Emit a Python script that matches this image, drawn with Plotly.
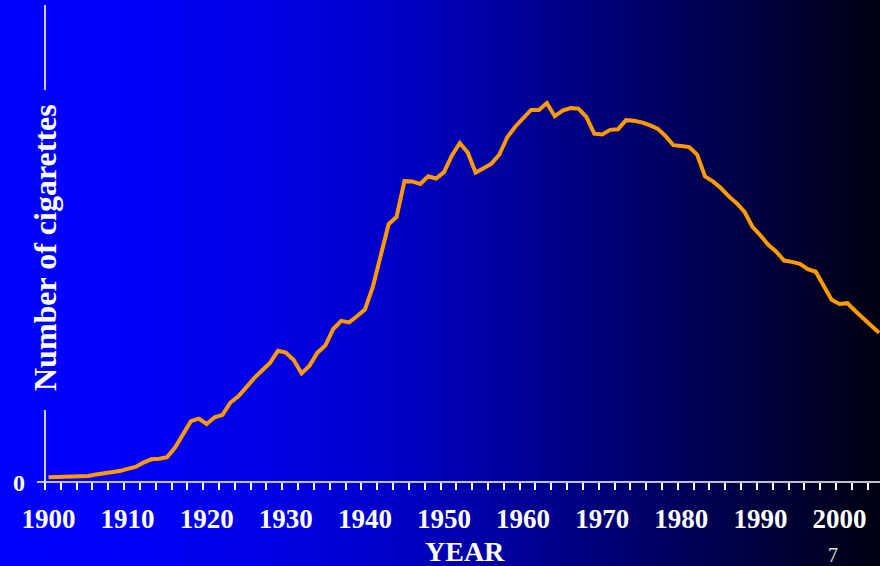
import base64, struct, zlib
import plotly.graph_objects as go

# ---------------- data ----------------
years = list(range(1900, 2006))
cigarettes = [
    54, 53, 60, 64, 66, 70, 86, 99, 105, 125,          # 1900-1909
    151, 173, 223, 260, 267, 285, 395, 551, 697, 727,  # 1910-1919
    665, 742, 770, 911, 982, 1085, 1191, 1279, 1366, 1504,  # 1920-1929
    1485, 1399, 1245, 1334, 1483, 1564, 1754, 1847, 1830, 1900,  # 1930-1939
    1976, 2236, 2585, 2956, 3039, 3449, 3446, 3416, 3505, 3480,  # 1940-1949
    3552, 3744, 3886, 3778, 3546, 3597, 3650, 3755, 3953, 4073,  # 1950-1959
    4171, 4266, 4266, 4345, 4194, 4258, 4287, 4280, 4186, 3993,  # 1960-1969
    3985, 4037, 4043, 4148, 4141, 4123, 4092, 4051, 3967, 3861,  # 1970-1979
    3851, 3840, 3753, 3502, 3446, 3370, 3274, 3197, 3096, 2926,  # 1980-1989
    2827, 2720, 2641, 2539, 2524, 2500, 2440, 2410, 2250, 2090,  # 1990-1999
    2040, 2050, 1960, 1880, 1795, 1710,                          # 2000-2005
]
tick_years = list(range(1900, 2001, 10))
tick_labels = [str(y) for y in tick_years]
y_tick_label = "0"
x_title = "YEAR"
y_title = "Number of cigarettes"
page_number = "7"

# ---------------- geometry ----------------
W, H = 880, 566
L, R, T, B = 45, 0, 0, 84
PW, PH = W - L - R, H - T - B

# ---------------- gradient background (PNG built in memory) ----------------
stops = [(0, 255), (100, 252), (250, 232), (390, 200), (630, 110), (880, 16)]
def blue_at(x):
    for (x0, b0), (x1, b1) in zip(stops, stops[1:]):
        if x0 <= x <= x1:
            return b0 + (b1 - b0) * (x - x0) / (x1 - x0)
    return stops[-1][1]
row = bytearray()
for x in range(W):
    row += bytes((0, 0, int(round(blue_at(x)))))
raw = b"\x00" + bytes(row)
def chunk(tag, data):
    return struct.pack(">I", len(data)) + tag + data + struct.pack(">I", zlib.crc32(tag + data) & 0xFFFFFFFF)
png = (b"\x89PNG\r\n\x1a\n"
       + chunk(b"IHDR", struct.pack(">IIBBBBB", W, 1, 8, 2, 0, 0, 0))
       + chunk(b"IDAT", zlib.compress(raw, 9))
       + chunk(b"IEND", b""))
src = "data:image/png;base64," + base64.b64encode(png).decode()

serif = "Liberation Serif, Times New Roman, serif"

fig = go.Figure()
fig.add_trace(go.Scatter(x=years, y=cigarettes, mode="lines",
                         line=dict(color="#FF9A00", width=4), hoverinfo="skip"))

def px_x(p):  # figure pixel -> paper x
    return (p - L) / PW
def px_y(p):  # figure pixel (from top) -> paper y
    return 1 - (p - T) / PH

shapes = [
    dict(type="line", xref="paper", yref="paper", x0=px_x(37), x1=px_x(880),
         y0=0, y1=0, line=dict(color="white", width=1.6)),
    dict(type="line", xref="paper", yref="paper", x0=0, x1=0,
         y0=px_y(5), y1=px_y(90), line=dict(color="white", width=1.6)),
    dict(type="line", xref="paper", yref="paper", x0=0, x1=0,
         y0=px_y(410), y1=0, line=dict(color="white", width=1.6)),
]

annotations = [
    dict(text=y_title, textangle=-90, xref="paper", yref="paper",
         x=px_x(45), y=px_y(248), xanchor="center", yanchor="middle", showarrow=False,
         font=dict(family=serif, size=32, color="white", weight="bold")),
    dict(text=y_tick_label, xref="paper", yref="paper", x=px_x(19), y=px_y(483),
         xanchor="center", yanchor="middle", showarrow=False,
         font=dict(family=serif, size=24, color="white", weight="bold")),
    dict(text=x_title, xref="paper", yref="paper", x=px_x(465), y=px_y(551),
         xanchor="center", yanchor="middle", showarrow=False,
         font=dict(family=serif, size=28, color="white", weight="bold")),
    dict(text=page_number, xref="paper", yref="paper", x=px_x(833), y=px_y(555),
         xanchor="center", yanchor="middle", showarrow=False,
         font=dict(family=serif, size=20, color="#E6E6E6")),
]

px_per_year = 7.91
x_left = 1900 - 3.5 / px_per_year
x_right = x_left + PW / px_per_year
y_top = 482 / (379 / 4345)

fig.update_layout(
    width=W, height=H, margin=dict(l=L, r=R, t=T, b=B),
    paper_bgcolor="#0000FF", plot_bgcolor="rgba(0,0,0,0)",
    showlegend=False,
    images=[dict(source=src, xref="paper", yref="paper", x=px_x(0), y=px_y(0),
                 sizex=W / PW, sizey=H / PH, xanchor="left", yanchor="top",
                 sizing="stretch", layer="below")],
    shapes=shapes, annotations=annotations,
    xaxis=dict(range=[x_left, x_right], showgrid=False, zeroline=False, showline=False,
               tickmode="array", tickvals=tick_years, ticktext=tick_labels, ticks="",
               ticklabelstandoff=18,
               tickfont=dict(family=serif, size=27, color="white", weight="bold"),
               minor=dict(ticks="outside", tick0=x_left, dtick=2, ticklen=7,
                          tickcolor="white", tickwidth=1.5, showgrid=False),
               fixedrange=True),
    yaxis=dict(range=[0, y_top], visible=False, fixedrange=True),
)

fig.write_html("out.html")
